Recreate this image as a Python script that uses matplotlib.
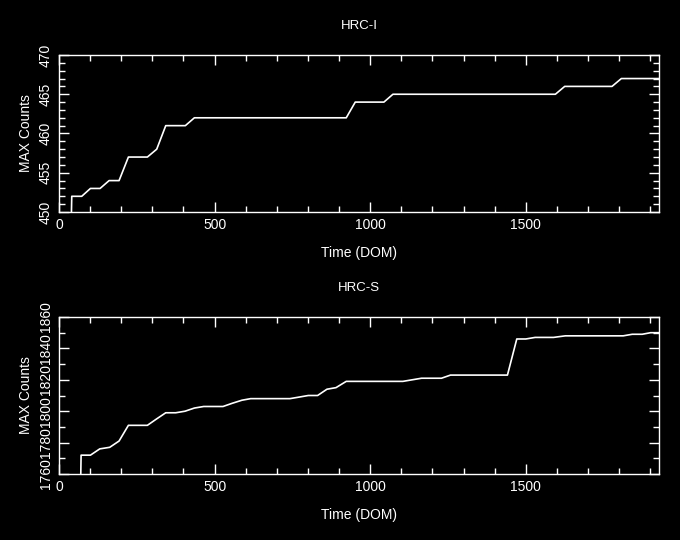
import matplotlib
matplotlib.use("Agg")
import matplotlib.pyplot as plt
from matplotlib.ticker import MultipleLocator

plt.rcParams['font.family'] = ['Liberation Sans', 'DejaVu Sans']

# HRC-I
hrci_time = [40, 41, 73, 101, 132, 161, 193, 223, 284, 314, 343, 406, 435,
             923, 952, 1044, 1073, 1595, 1625, 1777, 1807, 1930]
hrci_max = [450, 452, 452, 453, 453, 454, 454, 457, 457, 458, 461, 461, 462,
            462, 464, 464, 465, 465, 466, 466, 467, 467]

# HRC-S
hrcs_time = [70, 71, 101, 131, 163, 193, 223, 284, 313, 343, 375, 405, 435,
             465, 527, 556, 588, 616, 742, 772, 801, 831, 861, 890, 923,
             1105, 1135, 1165, 1229, 1258, 1441, 1471, 1500, 1530, 1589,
             1627, 1813, 1842, 1874, 1901, 1930]
hrcs_max = [1760, 1772, 1772, 1776, 1777, 1781, 1791, 1791, 1795, 1799, 1799,
            1800, 1802, 1803, 1803, 1805, 1807, 1808, 1808, 1809, 1810, 1810,
            1814, 1815, 1819, 1819, 1820, 1821, 1821, 1823, 1823, 1846, 1846,
            1847, 1847, 1848, 1848, 1849, 1849, 1850, 1850]

fig = plt.figure(figsize=(6.8, 5.4), dpi=100, facecolor='black')

W, H = 680.0, 540.0

def make_axes(top_px, bottom_px):
    ax = fig.add_axes([59 / W, (H - bottom_px) / H, 600 / W, (bottom_px - top_px) / H])
    ax.set_facecolor('black')
    for s in ax.spines.values():
        s.set_color('white')
        s.set_linewidth(1.0)
    ax.tick_params(which='both', direction='in', top=True, right=True,
                   colors='white', labelsize=10, pad=4.5, width=1.0)
    ax.tick_params(which='major', length=7)
    ax.tick_params(which='minor', length=4)
    ax.set_xlim(0, 1928)
    ax.xaxis.set_major_locator(MultipleLocator(500))
    ax.xaxis.set_minor_locator(MultipleLocator(100))
    ax.set_xlabel('Time (DOM)', color='white', fontsize=10, labelpad=10)
    ax.set_ylabel('MAX Counts', color='white', fontsize=10, labelpad=4)
    return ax

ax1 = make_axes(55, 212)
ax1.plot(hrci_time, hrci_max, color='white', lw=1.2)
ax1.set_ylim(450, 470)
ax1.yaxis.set_major_locator(MultipleLocator(5))
ax1.yaxis.set_minor_locator(MultipleLocator(1))
ax1.set_title('HRC-I', color='white', fontsize=9.5, pad=19)

ax2 = make_axes(317, 474)
ax2.plot(hrcs_time, hrcs_max, color='white', lw=1.2)
ax2.set_ylim(1760, 1860)
ax2.yaxis.set_major_locator(MultipleLocator(20))
ax2.yaxis.set_minor_locator(MultipleLocator(10))
ax2.set_title('HRC-S', color='white', fontsize=9.5, pad=19)

for ax in (ax1, ax2):
    plt.setp(ax.get_yticklabels(), rotation=90, va='center')

fig.savefig('out.png', dpi=100, facecolor='black')
